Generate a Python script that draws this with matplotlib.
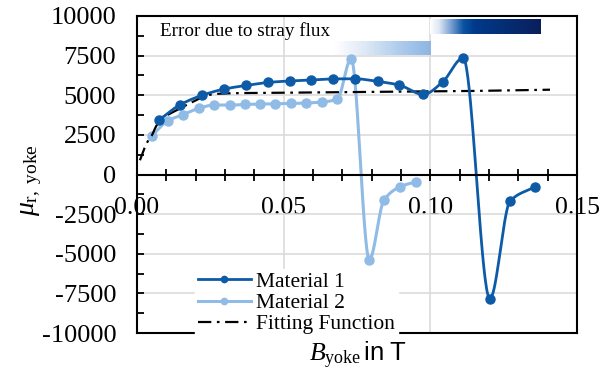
import numpy as np
import matplotlib
matplotlib.use('Agg')
import matplotlib.pyplot as plt
from matplotlib.colors import LinearSegmentedColormap
from matplotlib.ticker import MultipleLocator, FuncFormatter, FixedLocator

# ---------------- data ----------------
m1_B = [0.0076, 0.0147, 0.0221, 0.0297, 0.0372, 0.0447, 0.0521, 0.0594, 0.0669,
        0.0743, 0.0821, 0.0893, 0.0976, 0.1042, 0.1112, 0.1203, 0.1272, 0.1357]
m1_mu = [3450, 4400, 4990, 5390, 5620, 5810, 5900, 5960, 6030,
         6040, 5870, 5650, 5050, 5840, 7350, -7840, -1680, -770]

m2_B = [0.0050, 0.0105, 0.0156, 0.0210, 0.0262, 0.0316, 0.0367, 0.0419, 0.0472,
        0.0524, 0.0576, 0.0630, 0.0683, 0.0730, 0.0792, 0.0842, 0.0897, 0.0950]
m2_mu = [2440, 3390, 3770, 4170, 4380, 4380, 4420, 4440, 4460,
         4480, 4510, 4570, 4760, 7310, -5370, -1610, -770, -460]

fit_B = [0.0010, 0.0025, 0.0040, 0.0050, 0.0067, 0.0095, 0.0130, 0.0170, 0.0203,
         0.0232, 0.0266, 0.0334, 0.0500, 0.0700, 0.0900, 0.1100, 0.1250, 0.1408]
fit_mu = [900, 1650, 2200, 2450, 3100, 3650, 4000, 4400, 4700,
          4950, 5080, 5130, 5160, 5190, 5220, 5260, 5300, 5350]

series_labels = ["Material 1", "Material 2", "Fitting Function"]
annot_text = "Error due to stray flux"
x_ticks = [0.00, 0.05, 0.10, 0.15]
y_ticks = [-10000, -7500, -5000, -2500, 0, 2500, 5000, 7500, 10000]

# ---------------- style ----------------
plt.rcParams['font.family'] = ['Liberation Serif', 'DejaVu Serif']
plt.rcParams['mathtext.fontset'] = 'custom'
plt.rcParams['mathtext.rm'] = 'Liberation Serif'
plt.rcParams['mathtext.it'] = 'Liberation Serif:italic'
plt.rcParams['mathtext.sf'] = 'Liberation Sans'

C1 = '#0d5ba7'
C2 = '#8fbbe6'


def smooth(x, y, n=40):
    """Monotone cubic (Fritsch-Carlson) curve through the given points."""
    x = np.asarray(x, float)
    y = np.asarray(y, float)
    h = np.diff(x)
    d = np.diff(y) / h
    m = np.zeros_like(y)
    for k in range(1, len(x) - 1):
        if d[k - 1] * d[k] > 0:
            w1 = 2 * h[k] + h[k - 1]
            w2 = h[k] + 2 * h[k - 1]
            m[k] = (w1 + w2) / (w1 / d[k - 1] + w2 / d[k])
    m[0] = d[0]
    m[-1] = d[-1]
    xs, ys = [], []
    for k in range(len(x) - 1):
        t = np.linspace(0, 1, n, endpoint=(k == len(x) - 2))
        h00 = 2 * t**3 - 3 * t**2 + 1
        h10 = t**3 - 2 * t**2 + t
        h01 = -2 * t**3 + 3 * t**2
        h11 = t**3 - t**2
        ys.append(h00 * y[k] + h10 * h[k] * m[k] + h01 * y[k + 1] + h11 * h[k] * m[k + 1])
        xs.append(x[k] + t * h[k])
    return np.concatenate(xs), np.concatenate(ys)


fig = plt.figure(figsize=(6.0, 3.76), dpi=100)
ax = fig.add_axes([137 / 600, 1 - 333 / 376, 440 / 600, 317 / 376])

# gradient bars (stray flux regions)
grad = np.linspace(0, 1, 256).reshape(1, -1)
cm_light = LinearSegmentedColormap.from_list(
    'light', [(0, '#ffffff'), (0.3, '#e0eaf7'), (0.75, '#a6c6ea'), (1, '#8db6e3')])
cm_dark = LinearSegmentedColormap.from_list(
    'dark', [(0, '#ffffff'), (0.08, '#dfe7f3'), (0.2, '#6f98cc'), (0.3, '#0a54a3'),
             (0.4, '#003a8c'), (1, '#0b1f5a')])
ax.imshow(grad, cmap=cm_light, extent=[0.067, 0.100, 7520, 8370], aspect='auto',
          zorder=1, interpolation='bilinear')
ax.imshow(grad, cmap=cm_dark, extent=[0.100, 0.1378, 8890, 9780], aspect='auto',
          zorder=1, interpolation='bilinear')

ax.text(0.0078, 9040, annot_text, ha='left', va='center', fontsize=13.8, zorder=3)

# series
sx, sy = smooth(m1_B, m1_mu)
l1, = ax.plot(sx, sy, color=C1, lw=2.0, zorder=4)
ax.plot(m1_B, m1_mu, 'o', color=C1, ms=6.5, zorder=4)
sx, sy = smooth(m2_B, m2_mu)
l2, = ax.plot(sx, sy, color=C2, lw=2.2, zorder=3.5)
ax.plot(m2_B, m2_mu, 'o', color=C2, ms=6.5, zorder=3.5)
sx, sy = smooth(fit_B, fit_mu)
l3, = ax.plot(sx, sy, color='black', lw=1.6, dashes=[6, 2.5, 1.2, 2.5], zorder=3.8)

# legend
h1, = ax.plot([], [], '-o', color=C1, lw=2.0, ms=4.5)
h2, = ax.plot([], [], '-o', color=C2, lw=2.2, ms=4.5)
leg = ax.legend([h1, h2, l3], series_labels, loc='lower left',
                bbox_to_anchor=(0.131, -0.014), borderaxespad=0.0, borderpad=0.15,
                fontsize=15.5, handlelength=2.45, handletextpad=0.25, labelspacing=0.05,
                frameon=True, fancybox=False, framealpha=1, facecolor='white',
                edgecolor='white')
leg.set_zorder(6)

# axes
ax.set_xlim(0, 0.15)
ax.set_ylim(-10000, 10000)
ax.spines['bottom'].set_position(('data', 0))
for s in ax.spines.values():
    s.set_linewidth(1.5)
    s.set_zorder(5)
ax.axhline(-10000, color='black', lw=1.5, clip_on=False, zorder=5)

ax.xaxis.set_major_locator(FixedLocator(x_ticks))
ax.xaxis.set_minor_locator(MultipleLocator(0.01))
ax.xaxis.set_major_formatter(FuncFormatter(lambda v, p: f'{v:.2f}'))
ax.yaxis.set_major_locator(FixedLocator(y_ticks))
ax.yaxis.set_minor_locator(MultipleLocator(1250))
ax.yaxis.set_major_formatter(FuncFormatter(lambda v, p: f'{int(round(v))}'))

ax.tick_params(axis='x', which='both', direction='inout', length=9, width=1.3,
               labelsize=18.5, pad=12)
ax.tick_params(axis='y', which='both', direction='in', length=5, width=1.3,
               labelsize=19, pad=15)
ax.grid(True, which='major', color='#d9d9d9', lw=1.1)
ax.set_axisbelow(True)

ax.text(0.501, -0.09, r'$B_{\mathrm{yoke}}\,\mathsf{in\ T}$', transform=ax.transAxes,
        ha='center', va='baseline', fontsize=18.5)
fig.text(32 / 600, 1 - 180 / 376, r'$\mu_{\mathrm{r,\ yoke}}$', rotation=90,
         ha='center', va='center', fontsize=20)

fig.savefig('out.png', dpi=100)
